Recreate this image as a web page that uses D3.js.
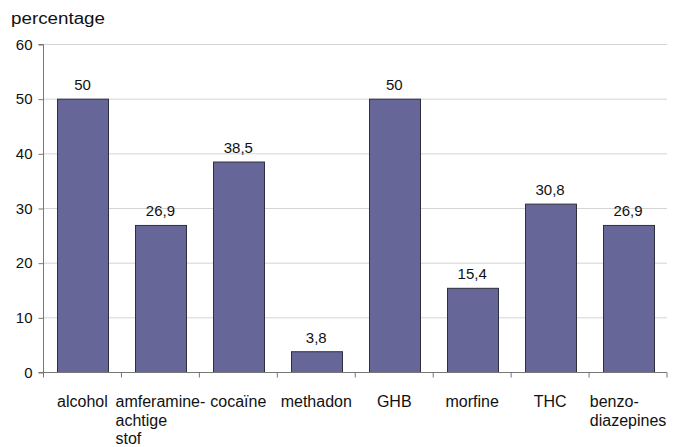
<!DOCTYPE html>
<html><head><meta charset="utf-8">
<script src="https://cdn.jsdelivr.net/npm/d3@7"></script>
<style>body{margin:0;background:#fff;}svg{display:block;font-family:"Liberation Sans",Arial,sans-serif;}</style>
</head><body>
<svg id="c" width="681" height="447"></svg>
<script>
const categories = ["alcohol", "amferamine-|achtige|stof", "cocaïne", "methadon", "GHB", "morfine", "THC", "benzo-|diazepines"];
const values = [50, 26.9, 38.5, 3.8, 50, 15.4, 30.8, 26.9];
const valueLabels = ["50", "26,9", "38,5", "3,8", "50", "15,4", "30,8", "26,9"];
const yTicks = [0, 10, 20, 30, 40, 50, 60];
const yTitle = "percentage";

const svg = d3.select("#c");
const m = {l: 43.5, r: 667, t: 44.5, b: 372.5};
const x = d3.scaleBand().domain(categories).range([m.l, m.r]).paddingInner(0.345).paddingOuter(0.1725);
const y = d3.scaleLinear().domain([0, 60]).range([m.b, m.t]);

// gridlines
svg.append("g").selectAll("line").data(yTicks.filter(d => d > 0)).join("line")
  .attr("x1", m.l).attr("x2", m.r).attr("y1", d => y(d)).attr("y2", d => y(d))
  .attr("stroke", "#d4d4d4").attr("stroke-width", 1);

// bars
svg.append("g").selectAll("rect").data(values).join("rect")
  .attr("x", (d, i) => Math.round(x(categories[i])) + 0.5)
  .attr("width", Math.round(x.bandwidth()))
  .attr("y", d => y(d))
  .attr("height", d => y(0) - y(d))
  .attr("fill", "#666699").attr("stroke", "#2e2e3e").attr("stroke-width", 1);

// value labels
svg.append("g").selectAll("text").data(values).join("text")
  .attr("x", (d, i) => x(categories[i]) + x.bandwidth() / 2)
  .attr("y", d => y(d) - 9)
  .attr("text-anchor", "middle").attr("font-size", 15).attr("fill", "#111")
  .text((d, i) => valueLabels[i]);

// y axis
const yAxis = d3.axisLeft(y).tickValues(yTicks).tickSize(5).tickPadding(6);
const gy = svg.append("g").attr("transform", `translate(${m.l},0)`).call(yAxis);
gy.selectAll("path,line").attr("stroke", "#777");
gy.select(".domain").attr("d", `M-5,${m.t}H0V${m.b}H-5`);
gy.selectAll("text").attr("font-size", 15).attr("fill", "#111").attr("font-family", "Liberation Sans, Arial, sans-serif");

// x axis
const bounds = d3.range(categories.length + 1).map(i => m.l + i * x.step());
svg.append("line").attr("x1", m.l).attr("x2", m.r).attr("y1", m.b).attr("y2", m.b).attr("stroke", "#777");
svg.append("g").selectAll("line").data(bounds).join("line")
  .attr("x1", d => d).attr("x2", d => d).attr("y1", m.b).attr("y2", m.b + 5).attr("stroke", "#777");

// category labels
const labelG = svg.append("g");
categories.forEach((c, i) => {
  const lines = c.split("|");
  const cx = x(c) + x.bandwidth() / 2;
  const t = labelG.append("text").attr("font-size", 16).attr("fill", "#111");
  lines.forEach((ln, j) => t.append("tspan").attr("x", 0).attr("y", 407 + j * 18.5).text(ln));
  const w = t.node().getBBox().width;
  t.selectAll("tspan").attr("x", cx - w / 2);
});

// y title
svg.append("text").attr("x", 11).attr("y", 24).attr("font-size", 16).attr("fill", "#111")
  .attr("textLength", 94).attr("lengthAdjust", "spacingAndGlyphs").text(yTitle);
</script>
</body></html>
